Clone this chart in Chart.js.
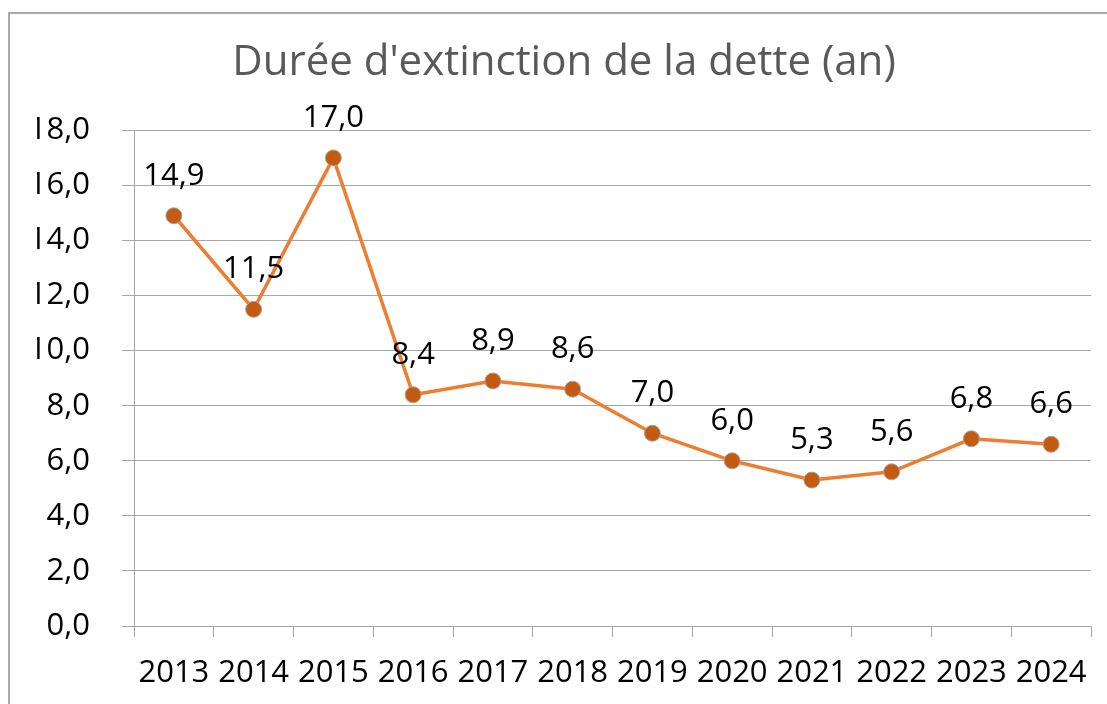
<!DOCTYPE html>
<html lang="fr">
<head>
    <meta charset="UTF-8">
    <title>Durée d'extinction de la dette</title>
    <style>
        body { margin: 0; background: #fff; overflow: hidden; }
        .cadre {
            position: absolute; left: 8px; top: 12px; width: 1200px; height: 800px;
            border-left: 2px solid #aaaaaa; border-top: 2px solid #aaaaaa;
            pointer-events: none;
        }
        #dureeChart { position: absolute; left: 0; top: 0; }
    </style>
</head>
<body>
    <canvas id="dureeChart" width="1107" height="704"></canvas>
    <div class="cadre"></div>

<script src="https://cdn.jsdelivr.net/npm/chart.js"></script>
<script>
    const annees = ['2013', '2014', '2015', '2016', '2017', '2018', '2019', '2020', '2021', '2022', '2023', '2024'];
    const duree = [14.9, 11.5, 17.0, 8.4, 8.9, 8.6, 7.0, 6.0, 5.3, 5.6, 6.8, 6.6];
    const yMin = 0;
    const yMax = 18;
    const yPas = 2;

    const police = "'Open Sans', 'DejaVu Sans', sans-serif";
    const gris = '#a6a6a6';

    const virgule = v => Number(v).toFixed(1).replace('.', ',');

    // étiquettes de valeurs au-dessus des points
    const etiquettes = {
        id: 'etiquettes',
        afterDatasetsDraw(chart) {
            const ctx = chart.ctx;
            const meta = chart.getDatasetMeta(0);
            ctx.save();
            ctx.font = '31px ' + police;
            ctx.fillStyle = '#000';
            ctx.textAlign = 'center';
            ctx.textBaseline = 'alphabetic';
            meta.data.forEach((pt, i) => {
                ctx.fillText(virgule(duree[i]), pt.x, pt.y - 31);
            });
            ctx.restore();
        }
    };

    const ctx = document.getElementById('dureeChart').getContext('2d');
    const dureeChart = new Chart(ctx, {
        type: 'line',
        data: {
            labels: annees,
            datasets: [{
                data: duree,
                borderColor: '#ED7D31',
                borderWidth: 3.5,
                pointRadius: 8,
                pointBackgroundColor: '#C55A11',
                pointBorderColor: '#a5a5a5',
                pointBorderWidth: 1,
                tension: 0
            }]
        },
        options: {
            responsive: false,
            animation: false,
            layout: { padding: { left: 37, right: 16, top: 0, bottom: 0 } },
            plugins: {
                legend: { display: false },
                tooltip: { enabled: false },
                title: {
                    display: true,
                    text: "Durée d'extinction de la dette (an)",
                    color: '#595959',
                    font: { family: police, size: 42, weight: 'normal' },
                    padding: { top: 38, bottom: 42 }
                }
            },
            scales: {
                x: {
                    offset: true,
                    grid: { offset: true, drawOnChartArea: false, drawTicks: true, tickLength: 11, color: gris },
                    border: { display: true, color: gris },
                    ticks: { color: '#000', font: { family: police, size: 31 }, padding: 18, autoSkip: false, maxRotation: 0 },
                    afterFit: s => { s.height = 78; }
                },
                y: {
                    min: yMin,
                    max: yMax,
                    grid: { color: gris, tickLength: 12 },
                    border: { display: true, color: gris },
                    ticks: { stepSize: yPas, color: '#000', font: { family: police, size: 31 }, padding: 32, callback: v => virgule(v) },
                    afterFit: s => { s.width = 97; }
                }
            }
        },
        plugins: [etiquettes]
    });
</script>
</body>
</html>
